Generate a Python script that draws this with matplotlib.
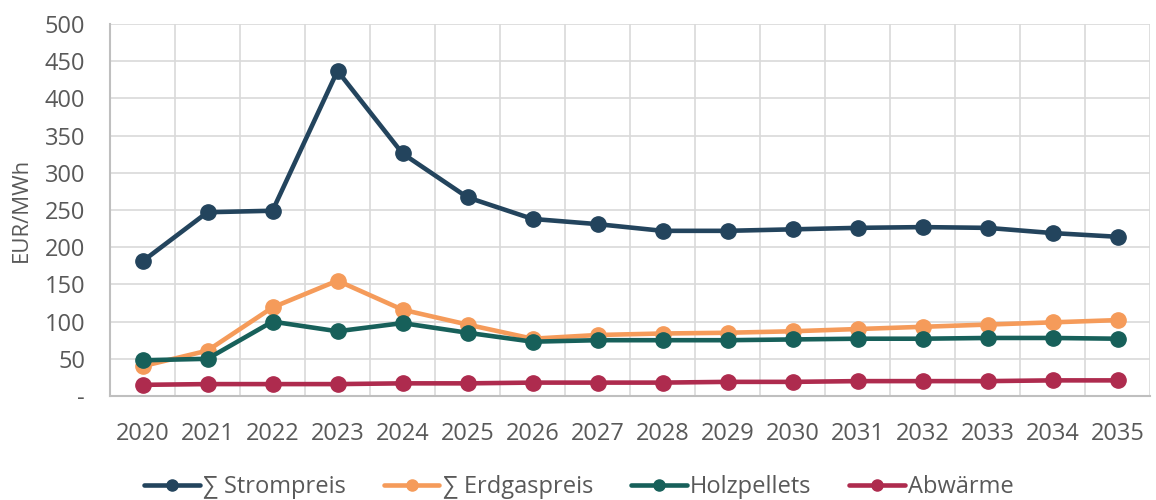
import matplotlib
matplotlib.use("Agg")
import matplotlib.pyplot as plt
from matplotlib.ticker import FuncFormatter

plt.rcParams['font.family'] = ['Open Sans', 'DejaVu Sans']

years = [str(y) for y in range(2020, 2036)]
strompreis = [181, 247, 249, 437, 326, 267, 238, 231, 222, 222, 224, 226, 227, 226, 219, 214]
erdgaspreis = [40, 61, 119, 155, 116, 96, 77, 82, 84, 85, 87, 90, 93, 96, 99, 102]
holzpellets = [48, 50, 100, 87, 98, 85, 73, 75, 75, 75, 76, 77, 77, 78, 78, 77]
abwaerme = [15, 16, 16, 16, 17, 17, 18, 18, 18, 19, 19, 20, 20, 20, 21, 21]

series = [
    ("∑ Strompreis", strompreis, "#23445D"),
    ("∑ Erdgaspreis", erdgaspreis, "#F59B5A"),
    ("Holzpellets", holzpellets, "#17605A"),
    ("Abwärme", abwaerme, "#AE2B4E"),
]

text_col = "#595959"
grid_col = "#D9D9D9"

fig = plt.figure(figsize=(11.56, 5.0), dpi=100)
ax = fig.add_axes([110 / 1156, 1 - 396 / 500, 1040 / 1156, 372 / 500])

x = list(range(len(years)))
handles = []
for label, vals, col in series:
    ax.plot(x, vals, color=col, lw=3.3, marker="o", ms=11, zorder=3,
            solid_capstyle="round")
    h, = ax.plot([], [], color=col, lw=3.3, marker="o", ms=8,
                 solid_capstyle="round")
    handles.append((h, label))

ax.set_xlim(-0.5, len(years) - 0.5)
ax.set_ylim(0, 500)
ax.set_yticks(range(0, 501, 50))
ax.yaxis.set_major_formatter(FuncFormatter(lambda v, p: "-" if v == 0 else f"{int(v)}"))
ax.set_xticks(x)
ax.set_xticklabels(years)
ax.set_xticks([i - 0.5 for i in range(len(years) + 1)], minor=True)

ax.grid(axis="y", which="major", color=grid_col, lw=1.2, zorder=0)
ax.grid(axis="x", which="minor", color=grid_col, lw=1.2, zorder=0)
ax.set_axisbelow(True)

ax.tick_params(axis="both", which="both", length=0, labelsize=17, colors=text_col)
ax.tick_params(axis="x", pad=19)
ax.tick_params(axis="y", pad=18)

for s in ["top", "right"]:
    ax.spines[s].set_visible(False)
for s in ["left", "bottom"]:
    ax.spines[s].set_color("#BFBFBF")
    ax.spines[s].set_linewidth(1.5)

ax.set_ylabel("EUR/MWh", fontsize=16, color=text_col)
ax.yaxis.set_label_coords(-78 / 1040, 0.5)

fig.legend([h for h, _ in handles], [l for _, l in handles],
           loc="center", bbox_to_anchor=(0.501, 0.026), ncol=4, frameon=False,
           fontsize=17, handlelength=2.35, handletextpad=0.15, columnspacing=1.6,
           labelcolor=text_col)

fig.savefig("out.png", dpi=100)
